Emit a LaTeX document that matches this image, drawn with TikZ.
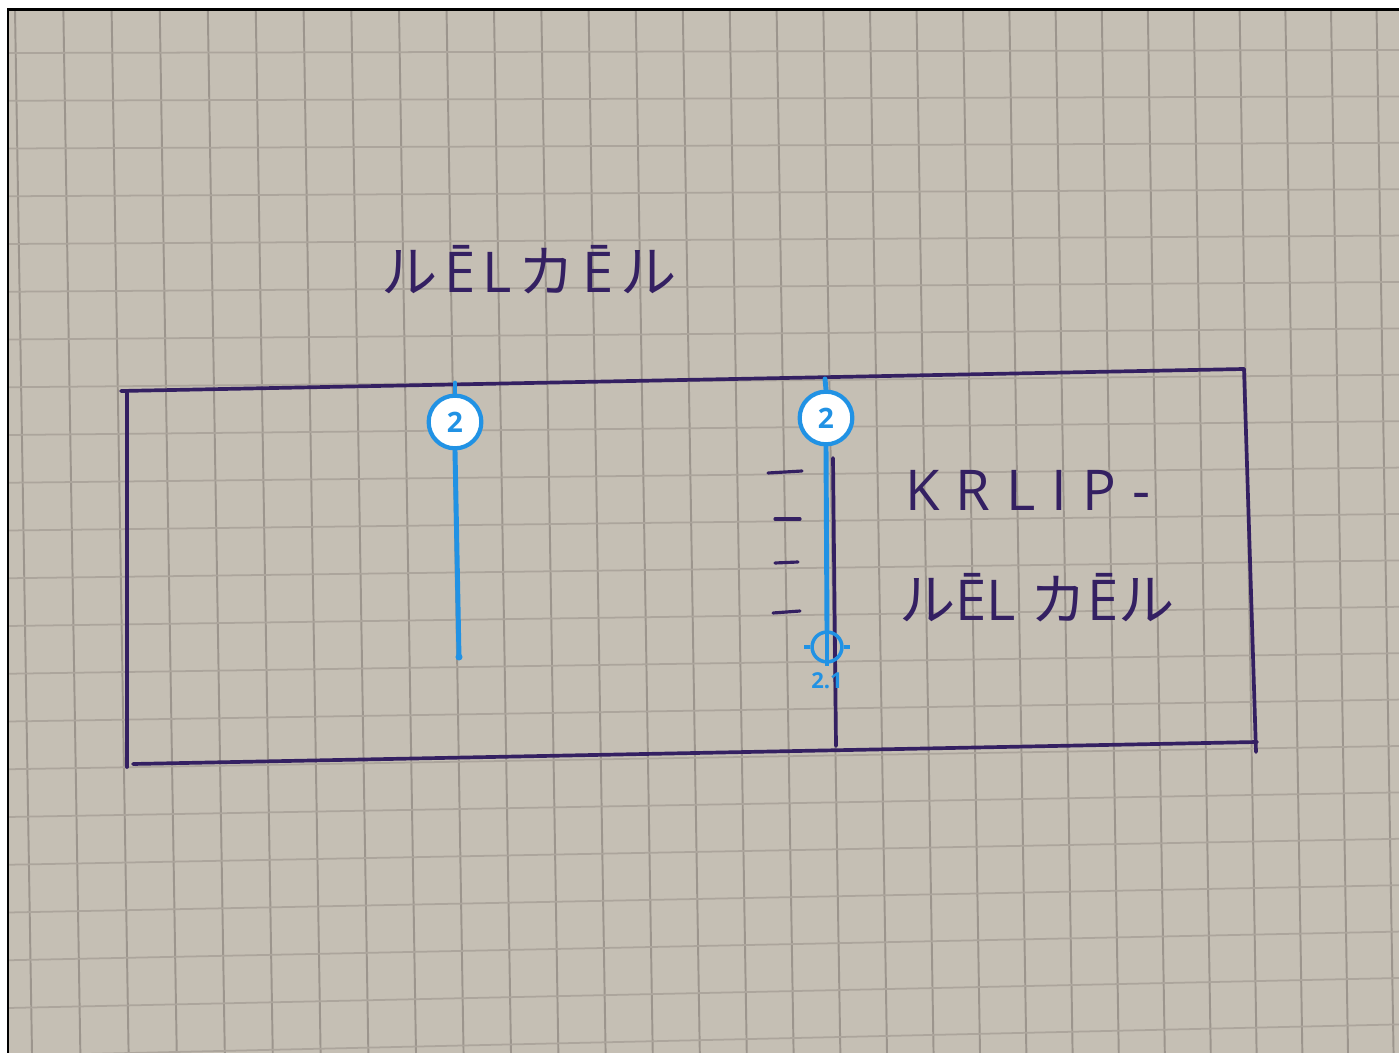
\documentclass[tikz,border=0pt]{standalone}
\usepackage{fontspec}
\newfontfamily\latf{Open Sans}
\newfontfamily\cjkf{Noto Sans CJK JP}
\newcommand\jp[1]{{\cjkf #1}}
\newcommand\gapa{\hspace{4pt}}
\newcommand\gapb{\hspace{9pt}}
\definecolor{paper}{RGB}{197,191,180}
\definecolor{gridc}{RGB}{156,149,141}
\definecolor{gridh}{RGB}{172,165,156}
\definecolor{ink}{RGB}{52,32,98}
\definecolor{annblue}{RGB}{33,146,228}
\begin{document}
\begin{tikzpicture}[x=0.02cm,y=-0.02cm,
  inkline/.style={draw=ink,line width=2.1pt,line cap=round},
  inktick/.style={draw=ink,line width=1.8pt,line cap=round},
  handtext/.style={text=ink,font=\latf\fontsize{32}{34}\selectfont,inner sep=0pt},
  badge/.style={circle,draw=annblue,fill=white,line width=2.4pt,minimum size=30pt,inner sep=0pt,text=annblue,font=\latf\bfseries\fontsize{16}{16}\selectfont},
  markline/.style={draw=annblue,line width=2.8pt,line cap=round},
  crossring/.style={circle,draw=annblue,line width=2pt,minimum size=17pt,inner sep=0pt},
  crosstick/.style={draw=annblue,line width=2pt},
  marklabel/.style={text=annblue,font=\latf\bfseries\fontsize{12.5}{12.5}\selectfont,inner sep=0pt}]
\useasboundingbox (0,0) rectangle (1399,1053);
\fill[white] (0,0) rectangle (1399,1053);
\fill[paper] (8,10) rectangle (1399,1053);
\begin{scope}
  \clip (8,10) rectangle (1399,1053);
  \foreach \i in {0,...,29}{
    \pgfmathsetmacro\xt{15+48.4*\i-0.05*\i*\i}
    \pgfmathsetmacro\xb{\xt+17}
    \draw[gridc,line width=1.1pt] (\xt,10) -- (\xb,1053);
  }
  \foreach \j in {0,...,21}{
    \pgfmathsetmacro\yl{53+47.75*\j}
    \pgfmathsetmacro\yr{50+46.4*\j}
    \draw[gridh,line width=1pt] (8,\yl) -- (1399,\yr);
  }
\end{scope}
\draw[black,line width=1.7pt] (8,1053) -- (8,10) -- (1399,10);

% hand-drawn rectangle
\coordinate (tl) at (121,391);
\coordinate (tr) at (1244,369);
\coordinate (lt) at (127,393);
\coordinate (lb) at (127,767);
\coordinate (bl) at (133,764);
\coordinate (br) at (1257,742);
\coordinate (rb) at (1256,752);
\draw[inkline] (tl) -- (tr);
\draw[inkline] (lt) -- (lb);
\draw[inkline] (bl) -- (br);
\draw[inkline] (tr) -- (rb);
\coordinate (dt) at (833,458);
\coordinate (db) at (836,746);
\draw[inkline] (dt) -- (db);

% ticks
\coordinate (k1a) at (768,473); \coordinate (k1b) at (802,471);
\coordinate (k2a) at (775,519); \coordinate (k2b) at (800,519);
\coordinate (k3a) at (775,563); \coordinate (k3b) at (798,562);
\coordinate (k4a) at (773,613); \coordinate (k4b) at (800,611);
\draw[inktick] (k1a) -- (k1b);
\draw[inktick] (k2a) -- (k2b);
\draw[inktick] (k3a) -- (k3b);
\draw[inktick] (k4a) -- (k4b);

% handwritten labels
\node[handtext] (t1) at (529,270) {\jp{ル}\gapa Ē\gapa L\gapa\jp{カ}\gapa Ē\gapa\jp{ル}};
\node[handtext] (t2) at (1028,490) {K\gapb R\gapb L\gapb I\gapb P\gapb -};
\node[handtext] (t3) at (1037,598) {\jp{ル}ĒL \jp{カ}Ē\jp{ル}};

% blue markers
\node[badge] (m1) at (455,422) {2};
\coordinate (m1top) at (455,383);
\coordinate (m1end) at (459,657);
\draw[markline] (m1top) -- (m1.north);
\draw[markline] (m1.south) -- (m1end);
\fill[annblue] (m1end) circle (2pt);

\node[badge] (m2) at (826,418) {2};
\coordinate (m2top) at (825,379);
\draw[markline] (m2top) -- (m2.north);
\node[crossring] (ch) at (827,647) {};
\coordinate (chb) at (827,666);
\draw[markline] (m2.south) -- (ch.north);
\draw[crosstick] (ch.north) -- (chb);
\draw[crosstick] (ch.west) -- ++(-6,0);
\draw[crosstick] (ch.east) -- ++(6,0);
\node[marklabel] (lbl) at (827,681) {2.1};
\end{tikzpicture}
\end{document}
